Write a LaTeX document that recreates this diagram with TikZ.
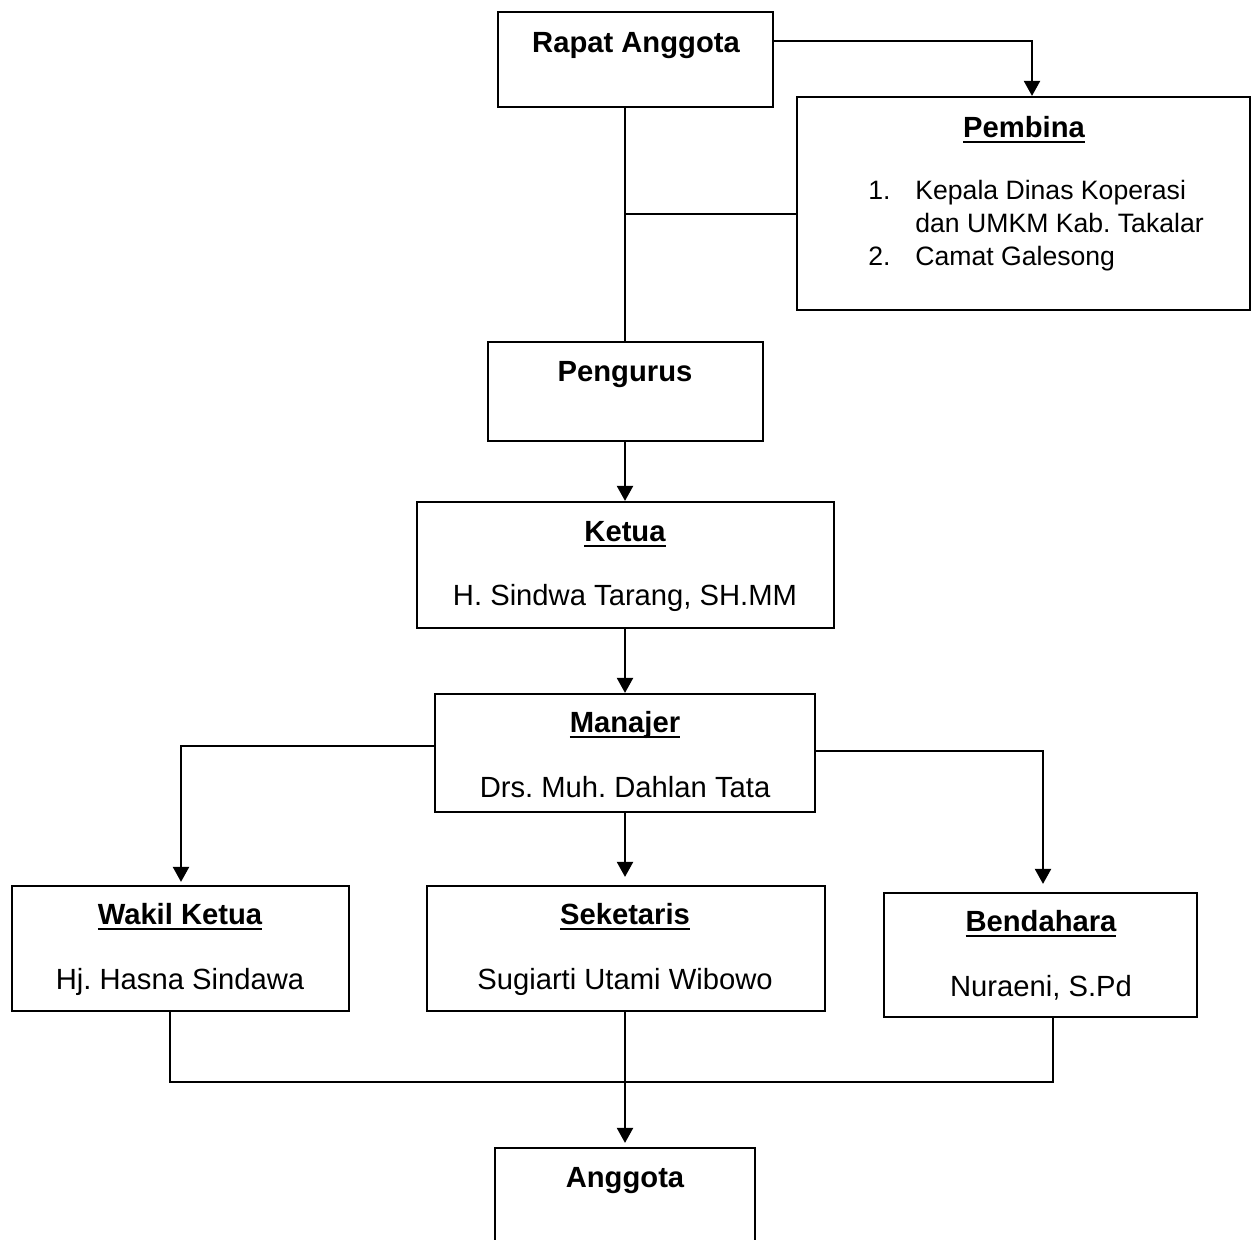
\documentclass[tikz,border=0pt]{standalone}
\usepackage{fontspec}
\setmainfont{Liberation Sans}
\usetikzlibrary{arrows.meta,fit}
% bold heading with a heavy underline just below the baseline
\newcommand\headul[1]{\setbox0\hbox{\bfseries #1}\rlap{\rule[-3pt]{\wd0}{1pt}}\box0}

\begin{document}
\frenchspacing
\begin{tikzpicture}[x=0.5pt,y=-0.5pt,
  box/.style={draw, line width=1.1pt, inner sep=0pt, rectangle},
  txt/.style={inner sep=0pt, anchor=base, font=\fontsize{14.6}{17}\selectfont},
  ttl/.style={txt, font=\fontsize{14.6}{17}\selectfont\bfseries},
  item/.style={inner sep=0pt, anchor=base west, font=\fontsize{13.3}{16}\selectfont},
  conn/.style={line width=1.1pt},
  arr/.style={conn, -{Triangle[width=8pt,length=7.5pt]}}]

\useasboundingbox (0,0) rectangle (1253,1239);
\clip (0,0) rectangle (1253,1239);

% boxes
\node[box, fit={(498,12) (773,107)}]     (rapat)     {};
\node[box, fit={(797,97) (1250,310)}]    (pembina)   {};
\node[box, fit={(488,342) (763,441)}]    (pengurus)  {};
\node[box, fit={(417,502) (834,628)}]    (ketua)     {};
\node[box, fit={(435,694) (815,812)}]    (manajer)   {};
\node[box, fit={(12,886) (349,1011)}]    (wakil)     {};
\node[box, fit={(427,886) (825,1011)}]   (seketaris) {};
\node[box, fit={(884,893) (1197,1017)}]  (bendahara) {};
\node[box, fit={(495,1148) (755,1290)}]  (anggota)   {};

% texts
\node[ttl] (tRapat) at (636,52) {Rapat Anggota};
\node[txt] (tPembina) at (1024,137) {\headul{Pembina}};
\node[item] (n1) at (868,199) {1.};
\node[item] (l1) at (915,199) {Kepala Dinas Koperasi};
\node[item] (l2) at (915,232) {dan UMKM Kab. Takalar};
\node[item] (n2) at (868,265) {2.};
\node[item] (l3) at (915,265) {Camat Galesong};
\node[ttl] (tPengurus) at (625,381) {Pengurus};
\node[txt] (tKetua) at (625,541) {\headul{Ketua}};
\node[txt] (nKetua) at (625,605) {H. Sindwa Tarang, SH.MM};
\node[txt] (tManajer) at (625,732) {\headul{Manajer}};
\node[txt] (nManajer) at (625,797) {Drs. Muh. Dahlan Tata};
\node[txt] (tWakil) at (180,924) {\headul{Wakil Ketua}};
\node[txt] (nWakil) at (180,989) {Hj. Hasna Sindawa};
\node[txt] (tSek) at (625,924) {\headul{Seketaris}};
\node[txt] (nSek) at (625,989) {Sugiarti Utami Wibowo};
\node[txt] (tBend) at (1041,931) {\headul{Bendahara}};
\node[txt] (nBend) at (1041,996) {Nuraeni, S.Pd};
\node[ttl] (tAnggota) at (625,1187) {Anggota};

% junction points
\coordinate (rpBranch) at (625,214);
\coordinate (busL) at (170,1082);
\coordinate (busR) at (1053,1082);

% connectors
\draw[arr] (rapat.east |- 0,41) -| (pembina.north -| 1032,0);
\draw[conn] (rapat.south -| rpBranch) -- (pengurus.north -| rpBranch);
\draw[conn] (rpBranch) -- (rpBranch -| pembina.west);
\draw[arr] (pengurus.south -| rpBranch) -- (ketua.north -| rpBranch);
\draw[arr] (ketua.south -| rpBranch) -- (manajer.north -| rpBranch);
\draw[arr, shorten >=1.5pt] (manajer.west |- 0,746) -| (wakil.north -| 181,0);
\draw[arr, shorten >=4pt] (manajer.east |- 0,751) -| (bendahara.north -| 1043,0);
\draw[arr, shorten >=4pt] (manajer.south -| rpBranch) -- (seketaris.north -| rpBranch);
\draw[conn] (wakil.south -| busL) -- (busL) -- (busR) -- (bendahara.south -| busR);
\draw[arr, shorten >=2pt] (seketaris.south -| rpBranch) -- (anggota.north -| rpBranch);
\end{tikzpicture}
\end{document}
